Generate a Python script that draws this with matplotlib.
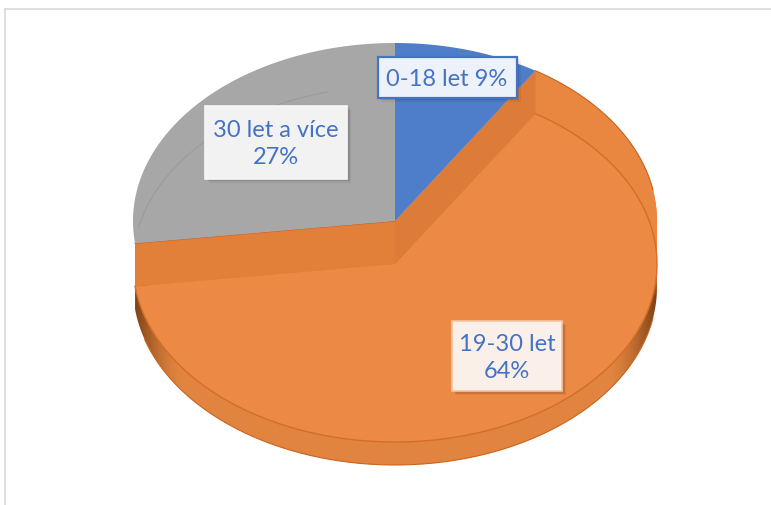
import numpy as np
import matplotlib
matplotlib.use("Agg")
import matplotlib.pyplot as plt
from matplotlib.patches import Polygon, Rectangle
from matplotlib.colors import to_rgb

# data
labels = ["0-18 let", "19-30 let", "30 let a více"]
shares = [9, 64, 27]
label_texts = ["0-18 let 9%", "19-30 let\n64%", "30 let a více\n27%"]

# colours (Excel office theme, with 3D shading)
c_blue = "#4E7DC9"
c_gray = "#A7A7A7"
c_face = "#EC8944"
c_wall_up = "#E9863F"
c_band_left = "#E2803A"
c_band_diag = "#DD7C38"
c_text = "#4472C4"

# pie geometry in pixels
cx, rx, ry = 395, 262, 178
L1, L2, L3 = 222, 265, 288   # top level, lowered face, bottom


def pt(cy, th):
    t = np.radians(th)
    return np.array([cx + rx * np.sin(t), cy - ry * np.cos(t)])


def arc(cy, t0, t1, n=200):
    t = np.radians(np.linspace(t0, t1, n))
    return np.column_stack([cx + rx * np.sin(t), cy - ry * np.cos(t)])


bounds = np.concatenate([[0], np.cumsum(shares)]) * 3.6
b0, b1 = bounds[1], bounds[2]   # orange slice limits (clockwise from top)

fig = plt.figure(figsize=(7.71, 5.06), dpi=100)
ax = fig.add_axes([0, 0, 1, 1])
ax.set_xlim(0, 771)
ax.set_ylim(506, 0)
ax.axis("off")

# chart frame
ax.plot([5, 771], [10, 10], color="#D9D9D9", lw=1.2)
ax.plot([5, 5], [10, 506], color="#D9D9D9", lw=1.2)

# orange body silhouette (side wall)
body = np.vstack([
    [[cx, L1]],
    arc(L1, b0, 90),
    arc(L3, 90, b1),
    [pt(L1, b1)],
])
body_patch = Polygon(body, closed=True, fc="none", ec="none")
ax.add_patch(body_patch)
xs = np.arange(771)
ys = np.arange(506)
tt = np.clip(np.abs(xs - cx) / rx, 0, 1)
kx = np.clip((tt - 0.82) / 0.18, 0, 1) ** 1.5
ky = np.clip((ys - 272) / 25, 0, 1)
k = ky[:, None] * kx[None, :]
base = np.array(to_rgb("#E0843F"))
dark = np.array(to_rgb("#7A3F14"))
grad = base[None, None, :] * (1 - k[..., None]) + dark[None, None, :] * k[..., None]
img = ax.imshow(grad, extent=(0, 771, 506, 0), aspect="auto",
                interpolation="bilinear", zorder=1)
img.set_clip_path(body_patch)

# upper outer wall on the right
upper = np.vstack([arc(L1, b0, 90), [[cx + rx, L2 - 8]], arc(L2, 90, b0)])
ax.add_patch(Polygon(upper, closed=True, fc=c_wall_up, ec="none", zorder=2))

# lowered top face of the orange slice
face = np.vstack([[[cx, L2]], arc(L2, b0, b1)])
ax.add_patch(Polygon(face, closed=True, fc=c_face, ec="none", zorder=3))

# cut faces
band_l = np.array([[cx, L1], [cx, L2], pt(L2, b1), pt(L1, b1)])
ax.add_patch(Polygon(band_l, closed=True, fc=c_band_left, ec="none", zorder=4))
band_d = np.array([[cx, L1], pt(L1, b0), pt(L2, b0), [cx, L2]])
ax.add_patch(Polygon(band_d, closed=True, fc=c_band_diag, ec="none", zorder=4))

# edge lines on orange
ln = arc(L2, b0, b1)
ax.plot(ln[:, 0], ln[:, 1], color="#D36E2A", lw=1.0, zorder=5)
ln = arc(L3, 100, b1 - 10)
ax.plot(ln[:, 0], ln[:, 1], color="#C9651F", lw=0.8, zorder=5)
ln = arc(L1, b0, 80)
ax.plot(ln[:, 0], ln[:, 1], color="#C9651F", lw=0.8, zorder=5)
ax.plot([cx, pt(L1, b1)[0]], [L1, pt(L1, b1)[1]], color="#C9651F", lw=0.8, zorder=6)

# gray slice
gray = np.vstack([[[cx, L1]], arc(L1, bounds[2], bounds[3])])
ax.add_patch(Polygon(gray, closed=True, fc=c_gray, ec="none", zorder=6))
ln = arc(L2, 282, 345)
ax.plot(ln[:, 0], ln[:, 1], color="#9B9B9B", lw=0.8, zorder=6)

# blue slice
blue = np.vstack([[[cx, L1]], arc(L1, bounds[0], bounds[1])])
ax.add_patch(Polygon(blue, closed=True, fc=c_blue, ec="none", zorder=6))

# data labels
boxes = [
    ((447, 78), (139, 41), "#EDF1F9", "#4472C4", 1.6),
    ((507, 357), (110, 70), "#FBF0E9", "#F6C4A2", 1.2),
    ((276, 143), (142, 73), "#F2F2F2", "#F7F7F7", 1.2),
]
for (x, y), (w, h), fc, ec, lw in boxes:
    for off, a in [(4, 0.06), (2.5, 0.10)]:
        ax.add_patch(Rectangle((x - w / 2 + off, y - h / 2 + off), w, h,
                               fc="black", ec="none", alpha=a, zorder=7))
    ax.add_patch(Rectangle((x - w / 2, y - h / 2), w, h, fc=fc, ec=ec,
                           lw=lw, zorder=8))
for (pos, _, _, _, _), txt in zip(boxes, label_texts):
    ax.text(pos[0], pos[1] + 1, txt, ha="center", va="center", color=c_text,
            fontsize=17, family="Lato", linespacing=1.3, zorder=9)

fig.savefig("out.png", dpi=100)
